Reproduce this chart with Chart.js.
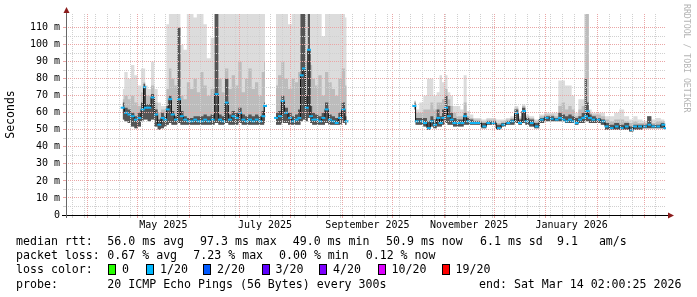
<!DOCTYPE html>
<html>
<head>
<meta charset="utf-8">
<script src="https://cdn.jsdelivr.net/npm/chart.js@4.4.1/dist/chart.umd.min.js"></script>
<style>
  html, body { margin: 0; padding: 0; background: #fff; }
  #wrap { position: relative; width: 697px; height: 297px; overflow: hidden; font-family: 'DejaVu Sans Mono', monospace; }
  #chart { position: absolute; left: 0; top: 0; }
  .t { position: absolute; font-size: 11.6px; line-height: 14px; white-space: pre; color: #000; }
  .box { position: absolute; width: 8px; height: 11px; box-sizing: border-box; border: 1px solid #000; }
  #credit { position: absolute; left: 682px; top: 4px; writing-mode: vertical-rl; font-size: 8.2px; line-height: 9px; color: #b4b4b4; white-space: pre; }
</style>
</head>
<body>
<div id="wrap">
  <canvas id="chart" width="697" height="297"></canvas>
  <div id="legend"></div>
  <div id="credit">RRDTOOL / TOBI OETIKER</div>
</div>
<script>
// days since Mar 19 2025 02:00 (360 day view ending Mar 14 2026 02:00), null rows are outages
var days = [
  34, 36, 38, 40, 42, 44, 46, 47, 48, 50,
  52, 54, 56, 58, 59.5, 61, 62.5, 64, 66, 67.8,
  69.5, 71.5, 73.5, 75.5, 77.5, 79.5, 81.5, 83.5, 85.5, 88,
  90.4, 92.4, 94.4, 96.4, 98.4, 100.4, 102.4, 104.4, 106.4, 108.4,
  110.4, 112.4, 114.4, 116.4, 118.4, 119.4,
  122.5,
  126, 128.4, 130, 132, 134.4, 136.4, 138.4, 140, 141.4, 142.8,
  144.4, 145.8, 147, 148.4, 150.4, 152.4, 154.4, 156.4, 158.4, 160.4,
  162.4, 164.4, 166.4, 168.4,
  189,
  209, 210.5, 213.4, 215.4, 217.8, 219.4, 221.4, 223.4, 224.8, 226.4,
  228, 229.8, 231.4, 233, 235.4, 237.8, 239.4, 241.4, 243.4, 245.4,
  247.4, 251, 253.4, 256.4, 259.8, 262.4, 265.4, 267.8, 270.4, 272.4,
  274.8, 276.4, 279.4, 282.4, 285.4, 288.4, 291.4, 294.4, 296.4, 298.4,
  300.4, 302.4, 304.4, 306.4, 308.4, 310.4, 312, 313, 314.4, 316.4,
  319.4, 322.4, 324.4, 327.4, 330.4, 333.4, 336.4, 339.4, 341.4, 344.4,
  347.4, 350, 352.4, 355.4, 358.4, 359.6
];

// median rtt in ms
var median = [
  63, 60, 59, 58, 56, 57, 62, 75, 63, 63,
  69, 59, 53, 57, 56, 62, 68, 59, 56, 68,
  58, 56, 55, 55, 56, 55, 55, 56, 55, 56,
  71, 56, 55, 66, 56, 58, 57, 60, 56, 55,
  56, 55, 56, 55, 58, 64,
  null,
  57, 58, 67, 60, 57, 55, 56, 57, 82, 86,
  63, 97, 58, 56, 56, 55, 57, 62, 56, 55,
  54, 57, 62, 55,
  null,
  64, 55, 55, 54, 51, 55, 53, 57, 54, 57,
  63, 58, 56, 54, 54, 54, 58, 55, 54, 54,
  54, 52, 54, 54, 51, 53, 54, 55, 60, 54,
  61, 55, 54, 52, 56, 57, 56.5, 56, 57, 56,
  55, 56, 55, 54, 56, 57, 58, 61, 57, 56,
  56, 55, 52, 51, 52, 51, 52, 50, 52, 52,
  52, 53, 52, 52, 53, 51
];

// fastest ping of each step
var minRtt = [
  56, 55, 54, 52, 51, 52, 55, 56, 56, 55,
  56, 52, 50, 51, 52, 53, 54, 53, 53, 54,
  53, 53, 53, 53, 53, 53, 53, 53, 53, 53,
  54, 53, 53, 54, 53, 53, 53, 54, 53, 53,
  53, 53, 53, 53, 53, 54,
  null,
  53, 53, 54, 54, 53, 53, 53, 53, 55, 56,
  55, 57, 54, 53, 53, 53, 53, 54, 53, 53,
  53, 53, 54, 53,
  null,
  62, 53, 53, 52, 50, 52, 51, 52, 52, 53,
  54, 53, 53, 52, 52, 52, 53, 53, 53, 53,
  53, 51, 53, 53, 50, 52, 53, 53, 54, 53,
  54, 53, 52, 51, 54, 55, 55, 55, 55, 55,
  54, 54, 54, 53, 54, 54, 55, 55, 54, 54,
  54, 53, 50, 50, 50, 50, 50, 49, 50, 50,
  51, 51, 51, 51, 51, 50
];

// top of the dense (dark) smoke
var darkTop = [
  66, 63, 62, 60, 58, 60, 66, 77, 65, 65,
  71, 62, 56, 60, 58, 64, 70, 61, 58, 110,
  61, 58, 57, 57, 58, 58, 58, 59, 58, 59,
  118, 59, 58, 80, 59, 61, 60, 63, 59, 58,
  59, 58, 59, 58, 61, 66,
  null,
  60, 61, 70, 63, 60, 58, 59, 62, 118, 118,
  70, 118, 64, 60, 59, 58, 60, 66, 59, 58,
  57, 60, 66, 58,
  null,
  66, 57, 57, 57, 55, 58, 56, 62, 58, 62,
  70, 64, 60, 57, 56, 56, 60, 57, 56, 55,
  55, 54, 55, 55, 53, 54, 55, 56, 62, 56,
  63, 57, 56, 54, 57, 58, 58, 57, 60, 59,
  58, 59, 58, 57, 58, 60, 80, 66, 59, 58,
  57, 56, 54, 53, 54, 53, 54, 52, 53, 53,
  53, 58, 53, 53, 54, 52
];

// top of the medium smoke
var midTop = [
  68, 70, 68, 70, 66, 64, 72, 78, 70, 70,
  76, 66, 60, 62, 62, 74, 86, 80, 76, 110,
  70, 68, 78, 74, 80, 72, 84, 76, 70, 74,
  118, 80, 72, 86, 74, 82, 76, 90, 72, 80,
  86, 74, 78, 70, 84, 90,
  null,
  76, 82, 90, 80, 74, 80, 78, 84, 118, 118,
  90, 118, 88, 80, 76, 82, 70, 84, 78, 74,
  70, 80, 86, 76,
  null,
  67, 60, 60, 62, 62, 66, 62, 66, 66, 68,
  74, 68, 64, 60, 58, 58, 66, 58, 57, 56,
  56, 55, 56, 56, 54, 55, 56, 57, 63, 57,
  64, 58, 57, 55, 58, 59, 59, 58, 64, 66,
  62, 64, 62, 58, 62, 64, 118, 118, 60, 59,
  59, 58, 56, 55, 56, 56, 55, 54, 55, 54,
  54, 58, 54, 55, 55, 54
];

// slowest ping of each step
var maxRtt = [
  74, 84, 80, 88, 82, 76, 86, 86, 76, 74,
  90, 74, 66, 64, 64, 112, 118, 118, 118, 118,
  100, 97, 118, 118, 116, 118, 118, 112, 92, 104,
  118, 118, 118, 118, 118, 118, 118, 118, 118, 118,
  118, 118, 118, 118, 118, 118,
  null,
  118, 118, 118, 118, 112, 118, 118, 118, 118, 118,
  118, 118, 118, 118, 118, 118, 105, 118, 118, 118,
  118, 118, 118, 116,
  null,
  67, 62, 66, 70, 80, 80, 70, 72, 82, 78,
  82, 72, 70, 64, 64, 62, 82, 61, 59, 57,
  57, 56, 57, 57, 56, 56, 57, 58, 64, 58,
  65, 59, 58, 56, 59, 60, 60, 60, 79, 79,
  76, 76, 70, 60, 68, 68, 118, 118, 62, 60,
  60, 60, 58, 58, 60, 62, 58, 56, 58, 56,
  55, 58, 56, 57, 56, 55
];

// x axis: month starts, labels in the middle of every other month
var monthStarts = [12.9, 42.9, 73.9, 103.9, 134.9, 165.9, 195.9, 226.9, 256.9, 287.9, 318.9, 346.9];
var monthLabelDays = [58.4, 119.4, 180.9, 241.9, 303.4];
var monthLabels = ['May 2025', 'July 2025', 'September 2025', 'November 2025', 'January 2026'];

var rttStats = ['56.0 ms avg', '97.3 ms max', '49.0 ms min', '50.9 ms now', '6.1 ms sd', '9.1   am/s'];
var lossStats = ['0.67 % avg', '7.23 % max', '0.00 % min', '0.12 % now'];
var lossLabels = ['0', '1/20', '2/20', '3/20', '4/20', '10/20', '19/20'];
var lossColors = ['#26ff00', '#00b8ff', '#0059ff', '#5e00ff', '#7e00ff', '#dd00ff', '#ff0000'];
var probeText = '20 ICMP Echo Pings (56 Bytes) every 300s';
var endText = 'end: Sat Mar 14 02:00:25 2026';

var MAJOR = '#eaa6a6';
var MINOR = '#d0d0d0';

// legend under the graph
var legend = document.getElementById('legend');
function addText(x, y, str) {
  var d = document.createElement('div');
  d.className = 't';
  d.style.left = x + 'px';
  d.style.top = y + 'px';
  d.textContent = str;
  legend.appendChild(d);
}
var rttX = [107.3, 200, 292.7, 386, 480, 557];
var lossX = [107.3, 193.3, 279, 365.7];
var boxX = [108, 146, 203, 261.5, 319, 377.5, 441.5];
addText(16, 234, 'median rtt:');
rttStats.forEach(function(s, i) { addText(rttX[i], 234, s); });
addText(16, 248, 'packet loss:');
lossStats.forEach(function(s, i) { addText(lossX[i], 248, s); });
addText(16, 262, 'loss color:');
lossLabels.forEach(function(s, i) {
  var b = document.createElement('div');
  b.className = 'box';
  b.style.left = Math.round(boxX[i]) + 'px';
  b.style.top = '264px';
  b.style.background = lossColors[i];
  legend.appendChild(b);
  addText(boxX[i] + 14, 262, s);
});
addText(16, 276.5, 'probe:');
addText(107.3, 276.5, probeText);
addText(479, 276.5, endText);

// x ticks: weekly grid, monthly grid, label positions
var xTicks = [];
for (var w = 3.9; w < 360; w += 7) {
  if (!monthStarts.some(function(m) { return Math.abs(m - w) < 0.5; })) xTicks.push({ value: w, kind: 'week' });
}
monthStarts.forEach(function(m) { xTicks.push({ value: m, kind: 'month' }); });
monthLabelDays.forEach(function(d, i) { xTicks.push({ value: d, kind: 'label', name: monthLabels[i] }); });
xTicks.sort(function(a, b) { return a.value - b.value; });

function xGridColor(tick) {
  if (!tick || tick.kind === 'label') return 'rgba(0,0,0,0)';
  return tick.kind === 'month' ? MAJOR : MINOR;
}

function pts(arr) {
  return days.map(function(d, i) { return { x: d, y: arr[i] }; });
}

function band(label, arr, color, order) {
  return {
    label: label,
    data: pts(arr),
    order: order,
    borderWidth: 0,
    borderColor: 'rgba(0,0,0,0)',
    backgroundColor: color,
    pointRadius: 0,
    stepped: 'middle',
    spanGaps: false,
    fill: { target: 0 }
  };
}

// axis lines with the little rrdtool arrows
var rrdAxes = {
  id: 'rrdAxes',
  afterDraw: function(chart) {
    var ctx = chart.ctx, a = chart.chartArea;
    ctx.save();
    ctx.lineWidth = 1;
    ctx.strokeStyle = '#000';
    ctx.beginPath();
    ctx.moveTo(a.left - 4, a.bottom + 0.5);
    ctx.lineTo(a.right + 3, a.bottom + 0.5);
    ctx.stroke();
    ctx.strokeStyle = '#666';
    ctx.beginPath();
    ctx.moveTo(a.left + 0.5, a.bottom + 3);
    ctx.lineTo(a.left + 0.5, a.top - 2);
    ctx.stroke();
    ctx.fillStyle = '#8b1c1c';
    ctx.beginPath();
    ctx.moveTo(a.right + 2, a.bottom - 2.5);
    ctx.lineTo(a.right + 8, a.bottom + 0.5);
    ctx.lineTo(a.right + 2, a.bottom + 3.5);
    ctx.closePath();
    ctx.fill();
    ctx.beginPath();
    ctx.moveTo(a.left - 2.5, a.top - 1);
    ctx.lineTo(a.left + 0.5, a.top - 7);
    ctx.lineTo(a.left + 3.5, a.top - 1);
    ctx.closePath();
    ctx.fill();
    ctx.restore();
  }
};

Chart.defaults.font.family = "'DejaVu Sans Mono', monospace";
Chart.defaults.color = '#000';

new Chart(document.getElementById('chart').getContext('2d'), {
  type: 'line',
  data: {
    datasets: [
      { label: 'min', data: pts(minRtt), order: 5, borderWidth: 0, pointRadius: 0, stepped: 'middle', fill: false, spanGaps: false },
      band('max', maxRtt, '#dcdcdc', 4),
      band('mid', midTop, '#bcbcbc', 3),
      band('dark', darkTop, '#555555', 2),
      {
        label: 'median rtt',
        data: pts(median),
        order: 1,
        borderColor: '#111',
        borderWidth: 1,
        stepped: 'middle',
        spanGaps: false,
        fill: false,
        pointStyle: 'line',
        pointRadius: 2,
        pointBorderWidth: 2,
        pointBorderColor: '#12b4f5'
      }
    ]
  },
  options: {
    responsive: false,
    animation: false,
    events: [],
    devicePixelRatio: 1,
    layout: { padding: { left: 0, top: 14, right: 31, bottom: 62 } },
    plugins: { legend: { display: false }, tooltip: { enabled: false } },
    scales: {
      x: {
        type: 'linear',
        min: 0,
        max: 360,
        afterBuildTicks: function(s) { s.ticks = xTicks; },
        afterFit: function(s) { s.height = 20; },
        ticks: {
          autoSkip: false,
          maxRotation: 0,
          minRotation: 0,
          padding: 1,
          color: '#000',
          font: { size: 10 },
          callback: function(v, i, t) { return t[i].name || ''; }
        },
        grid: {
          z: 1,
          lineWidth: 1,
          tickLength: 3,
          color: function(c) { return xGridColor(c.tick); },
          tickColor: function(c) { return xGridColor(c.tick); }
        },
        border: { display: false, dash: [1, 1] }
      },
      y: {
        min: 0,
        max: 118,
        afterBuildTicks: function(s) { s.ticks = s.ticks.filter(function(t) { return t.value % 5 === 0; }); },
        afterFit: function(s) { s.width = 66; },
        ticks: {
          stepSize: 5,
          autoSkip: false,
          padding: 3,
          color: '#000',
          font: { size: 10 },
          callback: function(v) { return v % 10 ? '' : (v ? v + ' m' : '0'); }
        },
        grid: {
          z: 1,
          lineWidth: 1,
          tickLength: 3,
          color: function(c) { return c.tick && c.tick.value % 10 ? MINOR : MAJOR; },
          tickColor: function(c) { return c.tick && c.tick.value % 10 ? MINOR : MAJOR; }
        },
        border: { display: false, dash: [1, 1] },
        title: {
          display: true,
          text: 'Seconds',
          color: '#000',
          font: { size: 11.5 },
          padding: { top: 4, bottom: 0 }
        }
      }
    }
  },
  plugins: [rrdAxes]
});
</script>
</body>
</html>
